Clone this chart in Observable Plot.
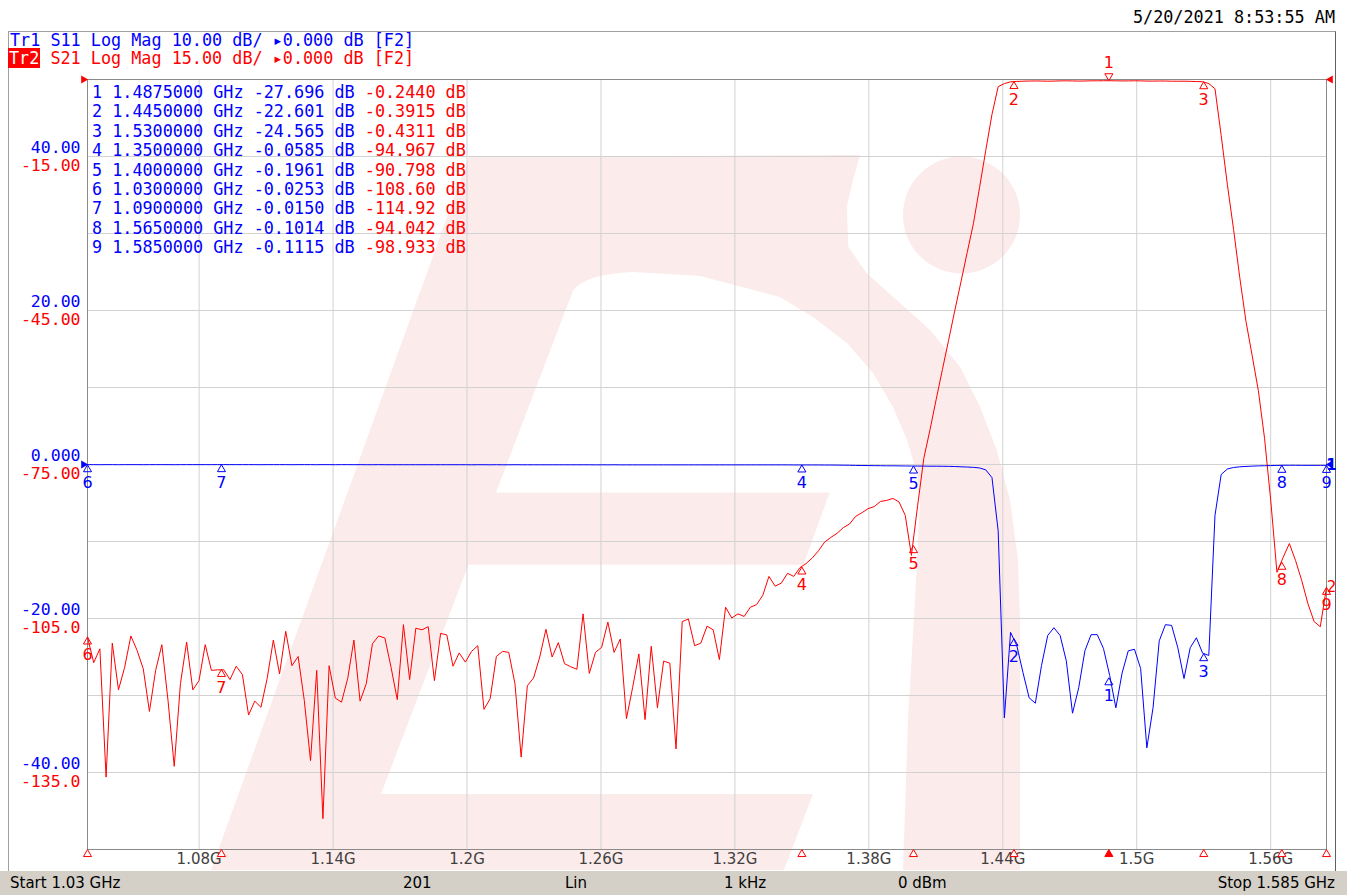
<!DOCTYPE html>
<html><head><meta charset="utf-8">
<script src="https://cdn.jsdelivr.net/npm/d3@7"></script>
<script src="https://cdn.jsdelivr.net/npm/@observablehq/plot@0.6"></script>
<style>
html,body{margin:0;padding:0;}
body{width:1347px;height:895px;position:relative;overflow:hidden;background:#fff;}
.mono{font-family:"DejaVu Sans Mono",monospace;font-size:16.8px;white-space:pre;}
#wm{position:absolute;left:0;top:0;}
#chart{position:absolute;left:0;top:0;}
#frame{position:absolute;left:8px;top:31px;width:1328px;height:840px;border-top:1px solid #a0a0a0;border-left:1px solid #a0a0a0;border-right:1px solid #606060;box-sizing:border-box;}
#date{position:absolute;right:12px;top:7px;color:#000;}
#hdr{position:absolute;left:10px;top:31px;line-height:18px;}
#hdr .t1{color:#0000ff;}
#hdr .t2{color:#ff0000;}
#hdr .box{background:#ff0000;color:#fff;margin-left:-2px;padding:0 1px;}
#table{position:absolute;left:92px;top:83px;line-height:19.4px;}
#table .b{color:#0000ff;} #table .r{color:#ff0000;}
#status{position:absolute;left:0;top:871px;width:1347px;height:24px;background:#d4d0c8;font-family:"DejaVu Sans",sans-serif;font-size:15px;color:#000;}
#status span{position:absolute;top:3px;white-space:pre;}
</style></head><body>
<svg id="wm" width="1347" height="895">
  <g fill="#fcebeb">
    <path d="M211,870 L468.8,157 L860,155 L853,180 L846.7,206.7 L848.3,246.7 L866.7,273.3 L896.7,300 L930,330 L960,366.7 L980,406.7 L996.7,450 L1010,500 L1018,560 L1020,620 L1020,870 Z"/>
    <circle cx="961.5" cy="215" r="58.5"/>
  </g>
  <path fill="#ffffff" d="M573,290.7 Q585,274 633,272 L700,276 L780,297 L813,317 L847,343 L873,373 L893,407 L907,440 L917,473 L920,500 L915,600 L908,720 L903,870 L784,870 L813,794 L381,794 L468.4,564.7 L803.4,564.7 L829.7,492.5 L496,492.5 Z"/>
</svg>
<div id="frame"></div>
<div id="chart"></div>
<div id="date" class="mono">5/20/2021 8:53:55 AM</div>
<div id="hdr" class="mono"></div>
<div id="table" class="mono"></div>
<div id="status"></div>
<script>
// Sweep definition (from status bar)
const start = 1.03, stop = 1.585, points = 201;
const ifbw = "1 kHz", power = "0 dBm", sweepType = "Lin";

// Tr2: S21 (dB), 201 points
const s21 = [
-108.6,-113.6,-110.9,-135.9,-109.8,-118.9,-114.5,-108.4,-111.2,-114.8,
-123.1,-115.1,-110.1,-121.0,-133.8,-117.7,-109.6,-118.9,-117.1,-110.1,
-115.1,-115.0,-115.0,-116.9,-114.3,-115.9,-123.8,-121.1,-122.3,-116.7,
-109.2,-115.8,-107.5,-114.2,-112.4,-121.0,-132.7,-115.1,-144.0,-114.2,
-120.5,-121.3,-116.7,-109.2,-121.1,-117.7,-109.9,-108.4,-108.8,-114.5,
-120.8,-106.2,-116.9,-106.9,-107.2,-106.6,-117.1,-107.9,-108.2,-114.3,
-111.7,-113.5,-111.4,-110.3,-122.7,-120.6,-112.4,-111.4,-111.6,-117.7,
-132.0,-118.1,-116.6,-112.5,-107.1,-112.5,-109.7,-113.8,-114.4,-114.9,
-104.1,-115.7,-111.6,-110.6,-105.7,-111.6,-109.0,-124.5,-118.4,-111.9,
-124.7,-110.4,-122.4,-113.3,-113.7,-130.4,-105.6,-105.1,-110.3,-109.8,
-106.5,-107.2,-113.0,-102.8,-104.9,-104.1,-104.6,-102.8,-102.3,-100.5,
-96.8,-98.7,-98.1,-96.2,-96.8,-95.1,-94.3,-93.2,-91.8,-90.1,
-89.2,-88.4,-87.3,-86.6,-85.1,-84.4,-83.6,-83.2,-82.2,-82.0,
-81.6,-82.3,-84.9,-92.7,-83.0,-73.8,-68.2,-62.3,-56.5,-50.8,
-45.0,-39.4,-33.7,-28.1,-21.0,-13.8,-6.8,-1.4,-0.8,-0.45,
-0.38,-0.33,-0.30,-0.28,-0.30,-0.33,-0.31,-0.27,-0.26,-0.28,
-0.31,-0.29,-0.26,-0.25,-0.24,-0.24,-0.26,-0.28,-0.27,-0.25,
-0.27,-0.30,-0.31,-0.29,-0.30,-0.33,-0.34,-0.33,-0.36,-0.40,
-0.43,-0.8,-1.8,-10.9,-20.5,-29.2,-38.6,-47.1,-53.8,-60.6,
-69.9,-82.0,-96.0,-93.1,-90.4,-93.7,-97.6,-102.1,-105.6,-106.6,-98.9];

// Tr1: S11 (dB), 201 points
const s11 = [
-0.025,-0.02,-0.03,-0.02,-0.02,-0.03,-0.02,-0.02,-0.02,-0.03,
-0.02,-0.02,-0.02,-0.02,-0.03,-0.02,-0.02,-0.02,-0.02,-0.02,
-0.02,-0.015,-0.015,-0.02,-0.02,-0.02,-0.02,-0.02,-0.03,-0.02,
-0.02,-0.02,-0.02,-0.03,-0.02,-0.02,-0.02,-0.03,-0.02,-0.02,
-0.03,-0.02,-0.02,-0.03,-0.02,-0.03,-0.03,-0.02,-0.03,-0.03,
-0.03,-0.03,-0.03,-0.03,-0.03,-0.03,-0.03,-0.03,-0.03,-0.03,
-0.03,-0.03,-0.04,-0.03,-0.03,-0.04,-0.03,-0.04,-0.04,-0.03,
-0.04,-0.04,-0.04,-0.04,-0.04,-0.04,-0.04,-0.04,-0.04,-0.04,
-0.04,-0.04,-0.05,-0.04,-0.05,-0.04,-0.05,-0.05,-0.05,-0.05,
-0.05,-0.05,-0.05,-0.05,-0.05,-0.05,-0.05,-0.05,-0.05,-0.05,
-0.05,-0.05,-0.05,-0.05,-0.05,-0.05,-0.05,-0.05,-0.05,-0.05,
-0.05,-0.05,-0.05,-0.05,-0.06,-0.06,-0.06,-0.06,-0.06,-0.07,
-0.07,-0.08,-0.09,-0.1,-0.12,-0.13,-0.14,-0.15,-0.16,-0.17,
-0.17,-0.18,-0.19,-0.2,-0.2,-0.21,-0.22,-0.22,-0.23,-0.24,
-0.26,-0.3,-0.33,-0.37,-0.45,-0.7,-1.7,-8.6,-32.9,-21.8,
-23.5,-27.0,-30.3,-31.0,-26.1,-22.2,-21.2,-22.2,-25.5,-32.3,
-29.0,-24.2,-22.1,-22.1,-23.9,-27.4,-31.6,-27.1,-24.2,-24.0,
-26.5,-36.8,-31.6,-22.9,-20.8,-20.9,-23.8,-27.8,-23.8,-22.5,
-24.5,-24.8,-6.6,-1.3,-0.58,-0.39,-0.3,-0.25,-0.21,-0.18,
-0.16,-0.14,-0.12,-0.1,-0.1,-0.1,-0.11,-0.11,-0.11,-0.11,-0.11];

// Axis ticks
const xTicks = [1.08, 1.14, 1.2, 1.26, 1.32, 1.38, 1.44, 1.5, 1.56];
const xTickLabels = ["1.08G","1.14G","1.2G","1.26G","1.32G","1.38G","1.44G","1.5G","1.56G"];
const yGrid = [-135, -120, -105, -90, -75, -60, -45, -30, -15];
const s11Ticks = [40, 20, 0, -20, -40];
const s11TickLabels = ["40.00","20.00","0.000","-20.00","-40.00"];
const s21Ticks = [-15, -45, -75, -105, -135];
const s21TickLabels = ["-15.00","-45.00","-75.00","-105.0","-135.0"];

// Markers
const markerNo = [1, 2, 3, 4, 5, 6, 7, 8, 9];
const markerFreq = [1.4875, 1.445, 1.53, 1.35, 1.40, 1.03, 1.09, 1.565, 1.585];
const markerS11 = [-27.696, -22.601, -24.565, -0.0585, -0.1961, -0.0253, -0.0150, -0.1014, -0.1115];
const markerS21 = [-0.2440, -0.3915, -0.4311, -94.967, -90.798, -108.60, -114.92, -94.042, -98.933];

// Trace settings
const tr1 = {name: "Tr1", param: "S11", fmt: "Log Mag", scale: 10, ref: 0, refPos: 5};
const tr2 = {name: "Tr2", param: "S21", fmt: "Log Mag", scale: 15, ref: 0, refPos: 10};
const RED = "#ff0000", BLUE = "#0000ff";
// Map a Tr1 value onto the Tr2 (plot) scale: both share the 10-division screen
const toTr2 = v => tr2.ref + (tr1.refPos - tr2.refPos) * tr2.scale + (v - tr1.ref) * tr2.scale / tr1.scale;

const sweep = s21.map((v, i) => ({f: start + i * (stop - start) / (points - 1), s21: v, s11: s11[i]}));
const markers = markerNo.map((n, i) => ({n, f: markerFreq[i], s11: markerS11[i], s21: markerS21[i]}));
const last = sweep[sweep.length - 1];

const fmtVal = v => Math.abs(v) >= 100 ? v.toFixed(2) : Math.abs(v) >= 10 ? v.toFixed(3) : v.toFixed(4);

// Header
document.getElementById("hdr").innerHTML =
  `<span class="t1">${tr1.name} ${tr1.param} ${tr1.fmt} ${tr1.scale.toFixed(2)} dB/ \u25B8${tr1.ref.toFixed(3)} dB [F2]</span>\n` +
  `<span class="box">${tr2.name}</span><span class="t2"> ${tr2.param} ${tr2.fmt} ${tr2.scale.toFixed(2)} dB/ \u25B8${tr2.ref.toFixed(3)} dB [F2]</span>`;

// Marker table
document.getElementById("table").innerHTML = markers.map(m =>
  `<span class="b">${m.n} ${m.f.toFixed(7)} GHz ${fmtVal(m.s11)} dB </span><span class="r">${fmtVal(m.s21)} dB</span>`).join("\n");

// Status bar
const st = document.getElementById("status");
[[`Start ${start} GHz`, 10, "left"], [String(points), 403, "left"], [sweepType, 565, "left"],
 [ifbw, 724, "left"], [power, 898, "left"], [`Stop ${stop} GHz`, 12, "right"]].forEach(([t, x, side]) => {
  const s = document.createElement("span");
  s.textContent = t;
  s.style[side] = x + "px";
  st.appendChild(s);
});

const sansF = "DejaVu Sans", monoF = "DejaVu Sans Mono";
const chart = Plot.plot({
  width: 1347, height: 870,
  marginLeft: 87, marginRight: 21, marginTop: 79, marginBottom: 21,
  style: {background: "transparent", overflow: "visible"},
  x: {domain: [start, stop], axis: null},
  y: {domain: [-150, 0], axis: null},
  marks: [
    Plot.ruleX(xTicks, {stroke: "#d2d2d2"}),
    Plot.ruleY(yGrid, {stroke: "#d2d2d2"}),
    Plot.frame({stroke: "#8a8a8a"}),
    Plot.text(xTicks, {x: d => d, y: -150, dy: 10, text: (d, i) => xTickLabels[i], fill: "#404040", fontSize: 15, fontFamily: sansF}),
    Plot.text(s11Ticks, {x: start, y: d => toTr2(d), dx: -7, dy: -9, textAnchor: "end", text: (d, i) => s11TickLabels[i], fill: BLUE, fontSize: 16.5, fontFamily: monoF}),
    Plot.text(s21Ticks, {x: start, y: d => d, dx: -7, dy: 9, textAnchor: "end", text: (d, i) => s21TickLabels[i], fill: RED, fontSize: 16.5, fontFamily: monoF}),
    // reference position indicators
    Plot.dot([{y: toTr2(tr1.ref), c: BLUE}, {y: tr2.ref, c: RED}], {x: start, y: "y", symbol: "triangle", rotate: 90, r: 3, fill: "c", dx: -4}),
    Plot.dot([{y: toTr2(tr1.ref), c: BLUE}, {y: tr2.ref, c: RED}], {x: stop, y: "y", symbol: "triangle", rotate: -90, r: 3, fill: "c", dx: 4}),
    // traces
    Plot.line(sweep, {x: "f", y: "s21", stroke: RED, strokeWidth: 1}),
    Plot.line(sweep, {x: "f", y: d => toTr2(d.s11), stroke: BLUE, strokeWidth: 1}),
    // trace number at end
    Plot.text([last], {x: "f", y: d => toTr2(d.s11), text: () => "1", dx: 5, fill: BLUE, fontSize: 15, fontWeight: "bold", fontFamily: sansF}),
    Plot.text([last], {x: "f", y: "s21", text: () => "2", dx: 5, fill: RED, fontSize: 15, fontFamily: sansF}),
    // S11 markers
    Plot.dot(markers, {x: "f", y: d => toTr2(d.s11), symbol: "triangle", r: 3, stroke: BLUE, fill: "none", strokeWidth: 1, dy: 4.7}),
    Plot.text(markers, {x: "f", y: d => toTr2(d.s11), text: d => String(d.n), dy: 18, fill: BLUE, fontSize: 16, fontFamily: sansF}),
    // S21 markers
    Plot.dot(markers.filter(m => m.n !== 1), {x: "f", y: "s21", symbol: "triangle", r: 3, stroke: RED, fill: "none", strokeWidth: 1, dy: 4.7}),
    Plot.text(markers.filter(m => m.n !== 1), {x: "f", y: "s21", text: d => String(d.n), dy: 18, fill: RED, fontSize: 16, fontFamily: sansF}),
    Plot.dot(markers.filter(m => m.n === 1), {x: "f", y: "s21", symbol: "triangle", rotate: 180, r: 3, stroke: RED, fill: "none", strokeWidth: 1, dy: -4.7}),
    Plot.text(markers.filter(m => m.n === 1), {x: "f", y: "s21", text: d => String(d.n), dy: -18, fill: RED, fontSize: 16, fontFamily: sansF}),
    // marker stimulus indicators on the bottom edge
    Plot.dot(markers, {x: "f", y: -150, symbol: "triangle", r: 3, stroke: RED, fill: d => d.n === 1 ? RED : "white", strokeWidth: 1, dy: 4.7})
  ]
});
document.getElementById("chart").appendChild(chart);
</script>
</body></html>
